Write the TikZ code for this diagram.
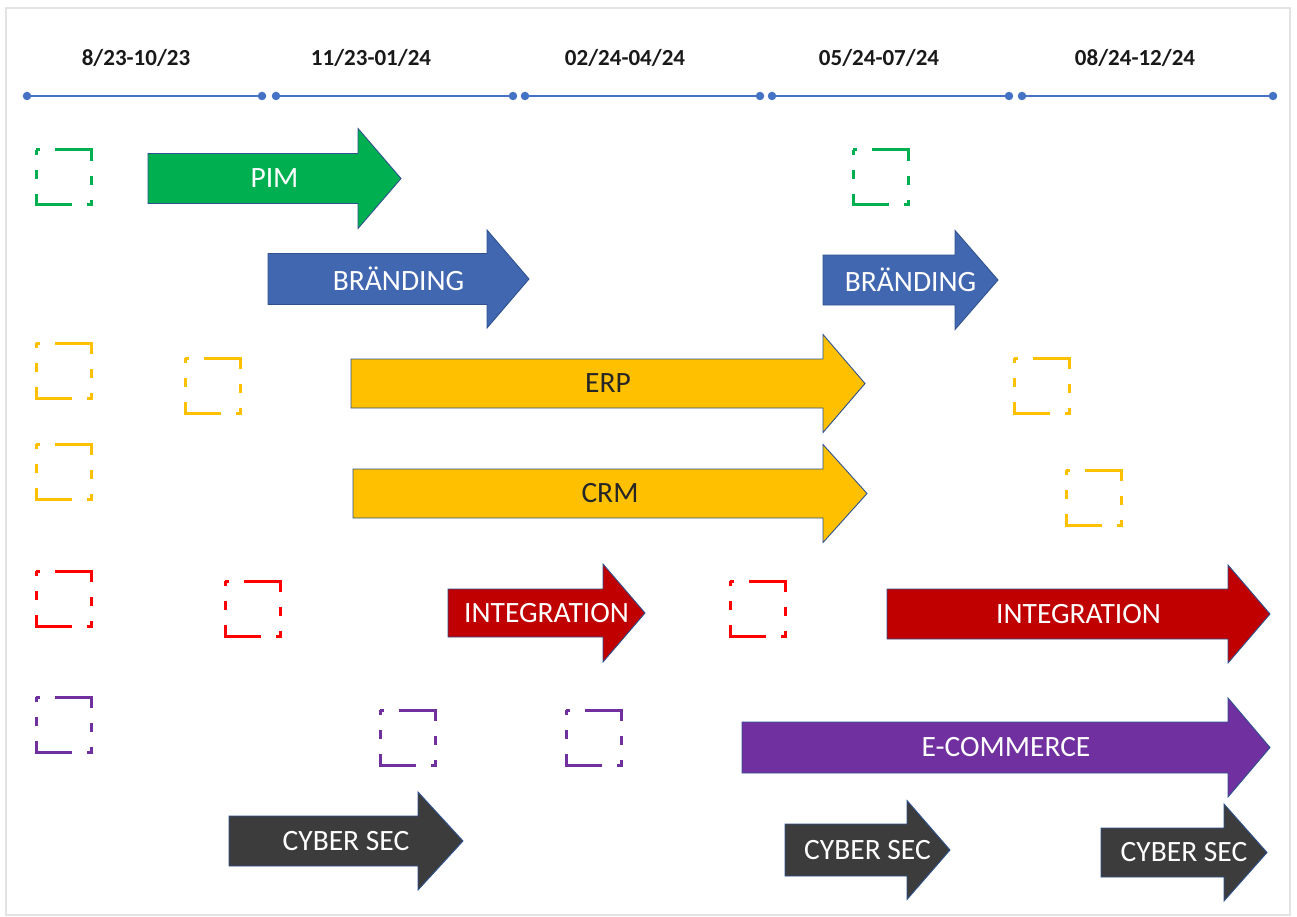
\documentclass[tikz,border=0pt]{standalone}
\usepackage{fontspec}
\setmainfont{Carlito}
\begin{document}
\definecolor{lineblue}{HTML}{4472C4}
\definecolor{edgeblue}{HTML}{2F528F}
\definecolor{pimgreen}{HTML}{00B050}
\definecolor{brandblue}{HTML}{4167B1}
\definecolor{gold}{HTML}{FFC000}
\definecolor{darkred}{HTML}{C00000}
\definecolor{brightred}{HTML}{FF0000}
\definecolor{violet}{HTML}{7030A0}
\definecolor{charcoal}{HTML}{3C3C3C}
\definecolor{framegray}{HTML}{E3E3E3}
\begin{tikzpicture}[x=1pt,y=-1pt,
  dot/.style={circle,fill=lineblue,inner sep=0pt,minimum size=8.5pt},
  seg/.style={lineblue,line width=1.6pt},
  period/.style={font=\fontsize{23}{25}\selectfont\bfseries,text=black!90},
  arrowbody/.style={draw=edgeblue,line width=0.9pt,line join=miter},
  arrowlabel/.style={font=\fontsize{29.5}{31}\selectfont,inner sep=0pt,draw=none,fill=none},
  greenarrow/.style={fill=pimgreen,text=white},
  bluearrow/.style={fill=brandblue,text=white},
  goldarrow/.style={fill=gold,text=black!85},
  redarrow/.style={fill=darkred,text=white},
  violetarrow/.style={fill=violet,text=white},
  darkarrow/.style={fill=charcoal,text=white},
  slot/.style={line width=3pt,dash pattern=on 47pt off 15pt on 9pt off 15pt on 9pt off 15pt,dash phase=91pt}
]
\useasboundingbox (0,0) rectangle (1297,917);
\fill[white] (0,0) rectangle (1297,917);
\draw[framegray,line width=2.5pt] (6,8) rectangle (1290,915);

% block arrow: name, style, left x, head base x, tip x, centre y, body half height, head half height, label
\newcommand{\blockarrow}[9]{%
  \draw[arrowbody,#2] (#3,#6-#7) -- (#4,#6-#7) -- (#4,#6-#8) -- (#5,#6)
     -- (#4,#6+#8) -- (#4,#6+#7) -- (#3,#6+#7) -- cycle;
  \node[arrowlabel,#2,fill=none] (#1) at ({(#3+#5)/2},#6) {#9};}

% dashed placeholder square: colour, top-left x, top-left y
\newcommand{\slotbox}[3]{%
  \draw[slot,#1] (#2,#3) -- (#2+55,#3) -- (#2+55,#3+55) -- (#2,#3+55) -- cycle;}

% timeline
\node[dot] (a0) at (27,96) {};   \node[dot] (a1) at (262,96) {};
\node[dot] (b0) at (276,96) {};  \node[dot] (b1) at (513,96) {};
\node[dot] (c0) at (525,96) {};  \node[dot] (c1) at (760,96) {};
\node[dot] (d0) at (772,96) {};  \node[dot] (d1) at (1009,96) {};
\node[dot] (e0) at (1022,96) {}; \node[dot] (e1) at (1273,96) {};
\draw[seg] (a0) -- (a1);
\draw[seg] (b0) -- (b1);
\draw[seg] (c0) -- (c1);
\draw[seg] (d0) -- (d1);
\draw[seg] (e0) -- (e1);

\node[period] (pa) at (136,58) {8/23-10/23};
\node[period] (pb) at (371,58) {11/23-01/24};
\node[period] (pc) at (625,58) {02/24-04/24};
\node[period] (pd) at (879,58) {05/24-07/24};
\node[period] (pe) at (1135,58) {08/24-12/24};

% work streams
\blockarrow{pim}{greenarrow}{148}{358}{401}{178.5}{25}{50}{PIM}
\blockarrow{brand1}{bluearrow}{268}{487}{529}{279}{25.5}{49}{BRÄNDING}
\blockarrow{brand2}{bluearrow}{823}{955}{998}{280}{25}{49.5}{BRÄNDING}
\blockarrow{erp}{goldarrow}{351}{823}{865}{383.5}{24.5}{49}{ERP}
\blockarrow{crm}{goldarrow}{353}{823}{867}{493.5}{24.5}{49}{CRM}
\blockarrow{int1}{redarrow}{448}{603}{645}{613}{24}{49}{INTEGRATION}
\blockarrow{int2}{redarrow}{887}{1228}{1270}{614}{25}{49}{INTEGRATION}
\blockarrow{ecom}{violetarrow}{742}{1228}{1270}{747.5}{25.5}{49.5}{E-COMMERCE}
\blockarrow{cyber1}{darkarrow}{229}{418}{463}{841}{25}{49}{CYBER SEC}
\blockarrow{cyber2}{darkarrow}{785}{907}{950}{850}{26}{49.5}{CYBER SEC}
\blockarrow{cyber3}{darkarrow}{1101}{1224}{1267}{852.5}{24.5}{48.5}{CYBER SEC}

% placeholders
\slotbox{pimgreen}{36}{150}
\slotbox{pimgreen}{853}{150}
\slotbox{gold}{36}{343}
\slotbox{gold}{185}{358}
\slotbox{gold}{1014}{358}
\slotbox{gold}{36}{444}
\slotbox{gold}{1066}{470}
\slotbox{brightred}{36}{571}
\slotbox{brightred}{225}{581}
\slotbox{brightred}{730}{581}
\slotbox{violet}{36}{697}
\slotbox{violet}{380}{710}
\slotbox{violet}{566}{710}
\end{tikzpicture}
\end{document}
